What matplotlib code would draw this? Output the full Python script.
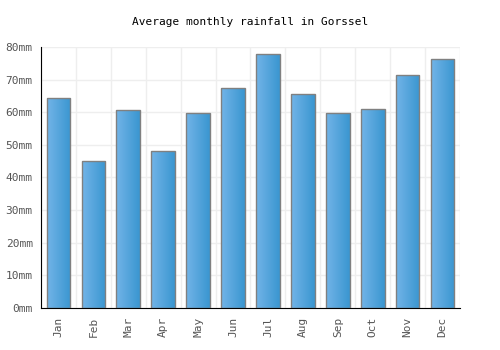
import matplotlib
matplotlib.use("Agg")
import matplotlib.pyplot as plt
import numpy as np
from matplotlib.colors import LinearSegmentedColormap

months = ["Jan", "Feb", "Mar", "Apr", "May", "Jun", "Jul", "Aug", "Sep", "Oct", "Nov", "Dec"]
rainfall = [64.4, 45.1, 60.7, 48.1, 59.8, 67.4, 77.9, 65.6, 59.8, 61.0, 71.4, 76.3]
yticks = [0, 10, 20, 30, 40, 50, 60, 70, 80]

plt.rcParams['font.family'] = 'DejaVu Sans Mono'

fig = plt.figure(figsize=(5, 3.5), dpi=100)
ax = fig.add_axes([0.082, 0.12, 0.838, 0.746])

x = np.arange(len(months))
bars = ax.bar(x, rainfall, width=0.68, facecolor='none', edgecolor='#808080', linewidth=1, zorder=3)

# horizontal gradient inside each bar
cmap = LinearSegmentedColormap.from_list("bar", ["#72b4e8", "#3a96d0"])
grad = np.linspace(0, 1, 64).reshape(1, -1)
for b in bars:
    x0, y0 = b.get_x(), b.get_y()
    w, h = b.get_width(), b.get_height()
    im = ax.imshow(grad, cmap=cmap, aspect='auto', extent=[x0, x0 + w, y0, y0 + h], zorder=2)
    im.set_clip_path(b)

ax.set_xlim(-0.5, len(months) - 0.5)
ax.set_ylim(0, 80)
ax.set_xticks(x)
ax.set_xticklabels(months, rotation=90, fontsize=8, color='#555555')
ax.set_yticks(yticks)
ax.set_yticklabels([f"{v}mm" for v in yticks], fontsize=8, color='#555555')
ax.set_xticks(np.arange(-0.5, len(months), 1), minor=True)
ax.tick_params(axis='x', which='minor', length=0)
ax.tick_params(axis='both', which='major', length=0, pad=6)
ax.grid(True, axis='y', color='#eeeeee', linewidth=1, zorder=0)
ax.grid(True, axis='x', which='minor', color='#eeeeee', linewidth=1, zorder=0)
ax.set_axisbelow(True)

for s in ['top', 'right']:
    ax.spines[s].set_visible(False)
ax.spines['left'].set_color('black')
ax.spines['bottom'].set_color('black')

fig.suptitle("Average monthly rainfall in Gorssel", fontsize=8, y=0.952)

fig.savefig("out.png", dpi=100)
